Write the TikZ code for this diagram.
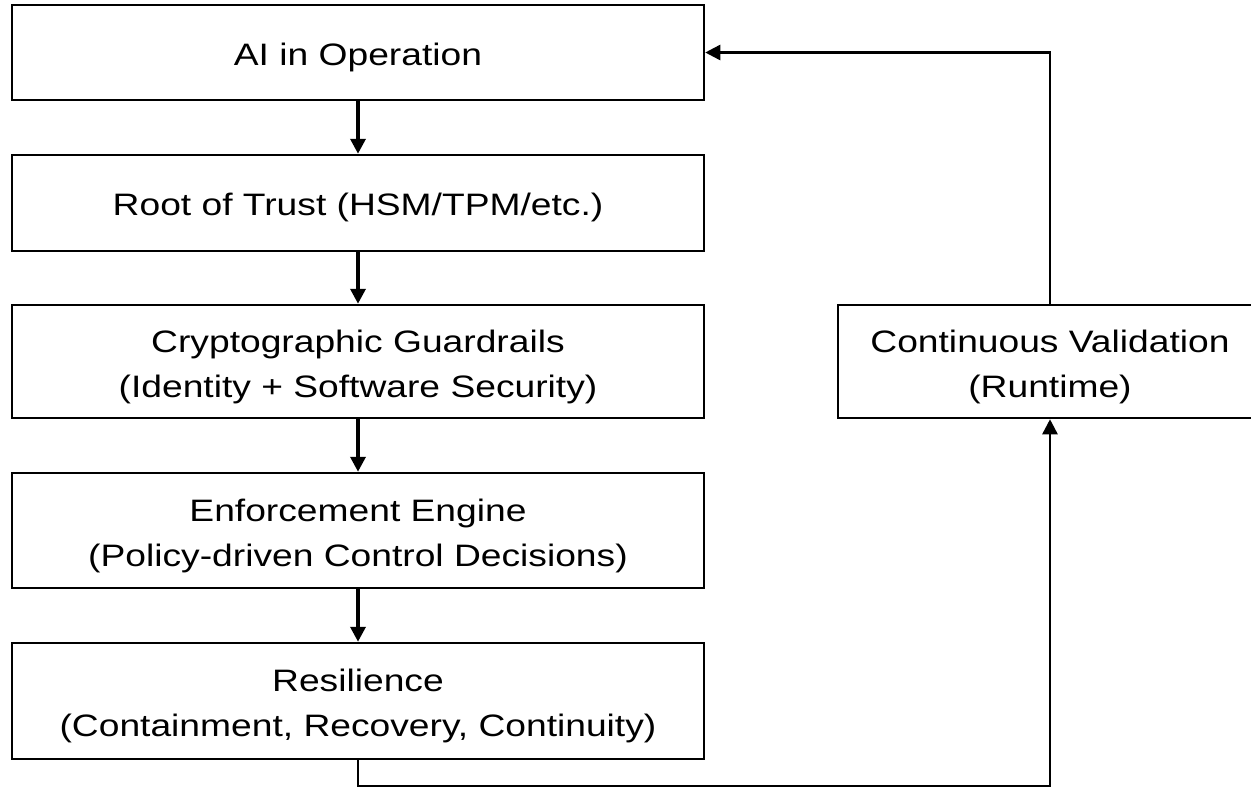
\documentclass[tikz,border=0pt]{standalone}
\usepackage{fontspec}
\setmainfont{Liberation Sans}[FakeStretch=1.2]
\usetikzlibrary{arrows.meta}
\begin{document}
\begin{tikzpicture}[x=1pt,y=-1pt,
  box/.style={draw, line width=2.5pt, inner sep=0pt, align=center,
    font=\fontsize{31}{45}\selectfont},
  oneline/.style={box, text height=25pt, text depth=0pt},
  twoline/.style={box, text height=71pt, text depth=0pt},
  flow/.style={line width=3.5pt, -{Triangle[width=15pt,length=15pt]}},
  back/.style={line width=2.5pt, -{Triangle[width=15pt,length=15pt]}}]
\useasboundingbox (0,0) rectangle (1251,788);
\node[oneline, minimum width=692pt, minimum height=95pt] (b1) at (358,52.5) {AI in Operation};
\node[oneline, minimum width=692pt, minimum height=96pt] (b2) at (358,203) {Root of Trust (HSM/TPM/etc.)};
\node[twoline, minimum width=692pt, minimum height=113pt] (b3) at (358,361.5) {Cryptographic Guardrails\\(Identity + Software Security)};
\node[twoline, minimum width=692pt, minimum height=115pt] (b4) at (358,530.5) {Enforcement Engine\\(Policy-driven Control Decisions)};
\node[twoline, minimum width=692pt, minimum height=116pt] (b5) at (358,701) {Resilience\\(Containment, Recovery, Continuity)};
\node[twoline, minimum width=424pt, minimum height=113pt] (cv) at (1050,361.5) {Continuous Validation\\(Runtime)};
\coordinate (low) at (358,786);
\draw[flow] (b1) -- (b2);
\draw[flow] (b2) -- (b3);
\draw[flow] (b3) -- (b4);
\draw[flow] (b4) -- (b5);
\draw[back] (b5.south) -- (low) -| (cv.south);
\draw[back] (cv.north) |- (b1.east);
\end{tikzpicture}
\end{document}
